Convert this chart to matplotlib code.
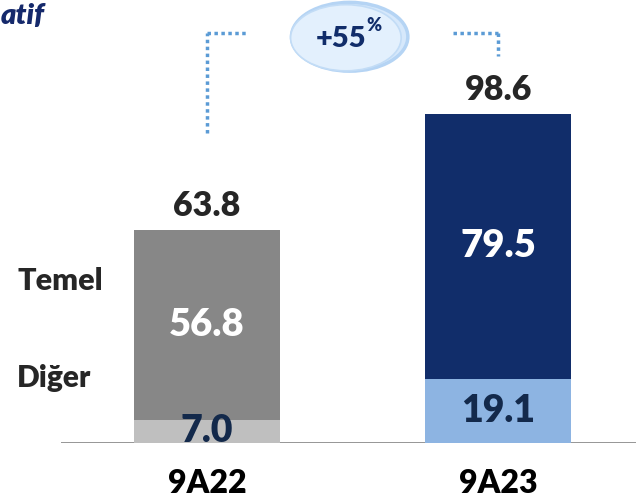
import matplotlib
matplotlib.use("Agg")
import matplotlib.pyplot as plt
from matplotlib.patches import Ellipse

plt.rcParams["font.family"] = ["Lato", "DejaVu Sans"]

periods = ["9A22", "9A23"]
diger = [7.0, 19.1]
temel = [56.8, 79.5]
totals = [63.8, 98.6]
growth = "+55"

base_colors = ["#BFBFBF", "#8DB4E2"]
top_colors = ["#878787", "#112D6A"]
navy_txt = "#13294B"

fig = plt.figure(figsize=(6.36, 5.04), dpi=100)
ax = fig.add_axes([61 / 636, 61 / 504, 575 / 636, 443 / 504])
ax.set_xlim(-0.502, 1.474)
ax.set_ylim(0, 132.6)
ax.axis("off")

x = range(len(periods))
ax.bar(x, diger, width=0.5, color=base_colors, zorder=2)
ax.bar(x, temel, width=0.5, bottom=diger, color=top_colors, zorder=2)
ax.axhline(0, color="#8C8C8C", lw=2, zorder=1)

for i in x:
    ax.text(i, diger[i] / 2, f"{diger[i]:.1f}", ha="center", va="center",
            fontsize=27, fontweight="heavy", color=navy_txt, zorder=3)
    ax.text(i, diger[i] + temel[i] / 2, f"{temel[i]:.1f}", ha="center",
            va="center", fontsize=27.5, fontweight="heavy", color="white", zorder=3)
    ax.text(i, totals[i] + 7, f"{totals[i]:.1f}", ha="center", va="center",
            fontsize=24.5, fontweight="heavy", color="#262626")
    ax.text(i, -12, periods[i], ha="center", va="center",
            fontsize=23, fontweight="heavy", color="black")

# row labels on the left
fig.text(17 / 636, 1 - 281 / 504, "Temel", ha="left", va="center",
         fontsize=22, fontweight="heavy", color="#262626")
fig.text(17 / 636, 1 - 378 / 504, "Diğer", ha="left", va="center",
         fontsize=21.5, fontweight="heavy", color="#262626")

fig.text(1 / 636, 1 - 16 / 504, "atif", ha="left", va="center",
         fontsize=21, fontweight="heavy", style="italic", color="#15296B")

# growth bracket
dot = dict(color="#5B9BD5", lw=2.5, ls=(0, (1, 1)), zorder=2)
top_y = 122.8
ax.plot([0, 0], [totals[0] + 29, top_y], **dot)
ax.plot([0, 0.135], [top_y, top_y], **dot)
ax.plot([0.845, 1.0], [top_y, top_y], **dot)
ax.plot([1.0, 1.0], [top_y, totals[1] + 17.3], **dot)

ax.add_patch(Ellipse((0.49, 121.6), 0.40, 20.6, facecolor="#D6E8FB",
                     edgecolor="#B5D4F4", lw=2.5, zorder=3, clip_on=False))
ax.add_patch(Ellipse((0.477, 121.3), 0.38, 19.8, facecolor="#E3F0FD",
                     edgecolor="#C2DCF6", lw=1.2, zorder=3, clip_on=False))
ax.text(0.46, 121.0, growth, ha="center", va="center", fontsize=21,
        fontweight="heavy", color="#112D6A", zorder=4)
ax.text(0.572, 125.0, "%", ha="center", va="center", fontsize=13,
        fontweight="heavy", color="#112D6A", zorder=4)

fig.savefig("out.png", dpi=100)
